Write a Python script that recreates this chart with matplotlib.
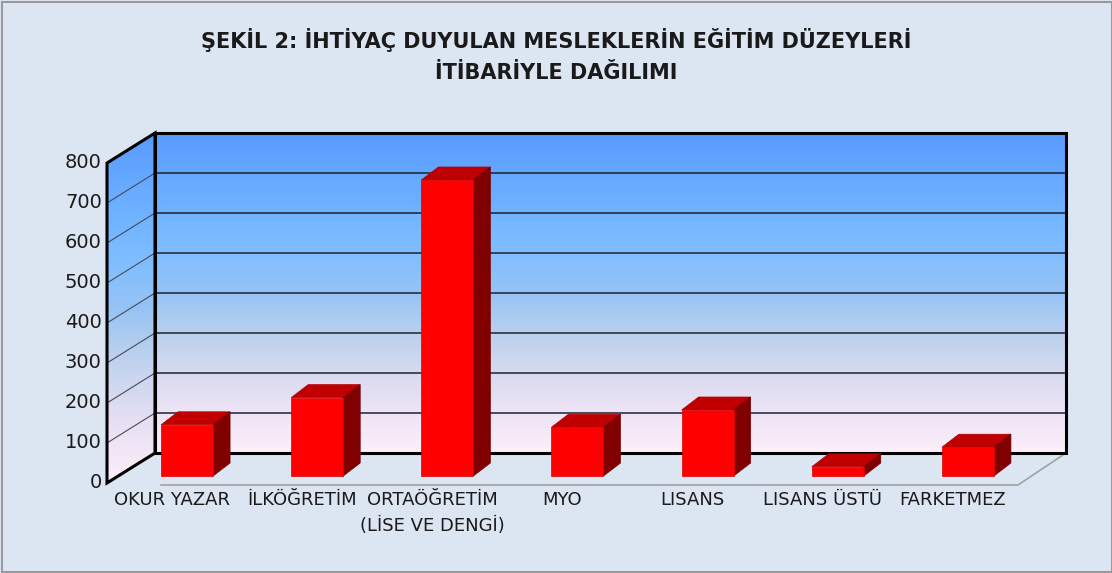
import matplotlib.pyplot as plt
import numpy as np
from matplotlib.colors import LinearSegmentedColormap
from matplotlib.patches import Polygon, Rectangle

# chart data
categories = ['OKUR YAZAR', 'İLKÖĞRETİM', 'ORTAÖĞRETİM\n(LİSE VE DENGİ)', 'MYO',
              'LISANS', 'LISANS ÜSTÜ', 'FARKETMEZ']
values = [128, 196, 740, 122, 165, 23, 72]
y_ticks = [0, 100, 200, 300, 400, 500, 600, 700, 800]
title = 'ŞEKİL 2: İHTİYAÇ DUYULAN MESLEKLERİN EĞİTİM DÜZEYLERİ\nİTİBARİYLE DAĞILIMI'

W, H = 1112, 573
bg = '#dce6f2'

# pixel layout of the fake 3d box (front plane)
px_x0, px_y0 = 107, 483      # front-left corner at value 0
px_cat = 130.14              # pixels per category
px_val = 0.4                 # pixels per unit of value

# depth offsets converted into data units
wdx, wdv = 48 / px_cat, 30 / px_val      # wall depth
bdx0, bdv0 = 15 / px_cat, 7 / px_val     # bar front plane offset
bdx, bdv = 17 / px_cat, 13 / px_val      # bar depth
bw = 52 / px_cat                          # bar width

n = len(categories)
vmax = y_ticks[-1]

fig = plt.figure(figsize=(W / 100, H / 100), dpi=100, facecolor=bg)
ax = fig.add_axes([0, 0, 1, 1])
ax.set_facecolor(bg)
ax.axis('off')

# wall gradient (bottom -> top)
stops = [(0.0, (253, 238, 250)), (0.125, (238, 228, 245)), (0.25, (215, 218, 240)),
         (0.375, (185, 208, 238)), (0.5, (150, 195, 245)), (0.625, (128, 190, 255)),
         (0.75, (113, 180, 255)), (1.0, (88, 155, 255))]
cmap = LinearSegmentedColormap.from_list(
    'wall', [(f, tuple(c / 255 for c in rgb)) for f, rgb in stops])
grad = np.linspace(0, 1, 256).reshape(-1, 1)

# back wall
ax.imshow(grad, cmap=cmap, origin='lower', aspect='auto', zorder=1,
          extent=(wdx, n + wdx, wdv, vmax + wdv))
for t in y_ticks[1:-1]:
    ax.plot([wdx, n + wdx], [t + wdv, t + wdv], color='#1c2333', lw=1.1, zorder=2)
ax.add_patch(Rectangle((wdx, wdv), n, vmax, fill=False, ec='black', lw=2.2, zorder=3))

# left wall
left = [(0, 0), (wdx, wdv), (wdx, vmax + wdv), (0, vmax)]
lw_patch = Polygon(left, closed=True, fc='none', ec='none')
ax.add_patch(lw_patch)
im = ax.imshow(grad, cmap=cmap, origin='lower', aspect='auto', zorder=1,
               extent=(0, wdx, 0, vmax + wdv))
im.set_clip_path(lw_patch)
for t in y_ticks[1:-1]:
    ax.plot([0, wdx], [t, t + wdv], color='#4a4a55', lw=0.8, zorder=2)
ax.add_patch(Polygon(left, closed=True, fill=False, ec='black', lw=2.2, zorder=3))

# floor edge
ax.plot([bdx0 + 0.5 - bw / 2, n, n + wdx], [-5, -5, wdv], color='#a0a0a0', lw=1.2, zorder=2)

# bars
for i, val in enumerate(values):
    x0 = i + 0.5 - bw / 2 + bdx0
    v0 = bdv0
    ax.add_patch(Polygon([(x0, v0 + val), (x0 + bw, v0 + val), (x0 + bw + bdx, v0 + val + bdv),
                          (x0 + bdx, v0 + val + bdv)], closed=True, fc='#c00000', ec='#b00000',
                         lw=0.5, zorder=4))
    ax.add_patch(Polygon([(x0 + bw, v0), (x0 + bw + bdx, v0 + bdv), (x0 + bw + bdx, v0 + val + bdv),
                          (x0 + bw, v0 + val)], closed=True, fc='#800000', ec='#700000',
                         lw=0.5, zorder=4))
    ax.add_patch(Rectangle((x0, v0), bw, val, fc='#ff0000', ec='#e00000', lw=0.5, zorder=5))

# tick labels
for t in y_ticks:
    ax.text(-0.04, t, str(t), ha='right', va='center', fontsize=14, color='#1a1a1a')

for i, lab in enumerate(categories):
    ax.text(i + 0.5, -21, lab, ha='center', va='top', fontsize=13, color='#1a1a1a',
            linespacing=1.5)

fig.text(0.5, 1 - 55.5 / H, title, ha='center', va='center', fontsize=15,
         fontweight='bold', color='#1a1a1a', linespacing=1.65)

# outer border
fig.patches.append(Rectangle((1.5 / W, 1.5 / H), 1 - 1.5 / W, 1 - 3.5 / H, transform=fig.transFigure,
                             fill=False, ec='#9a9a9a', lw=1.5))

ax.set_xlim(-px_x0 / px_cat, (W - px_x0) / px_cat)
ax.set_ylim((px_y0 - H) / px_val, px_y0 / px_val)

fig.savefig('out.png', dpi=100, facecolor=bg)
